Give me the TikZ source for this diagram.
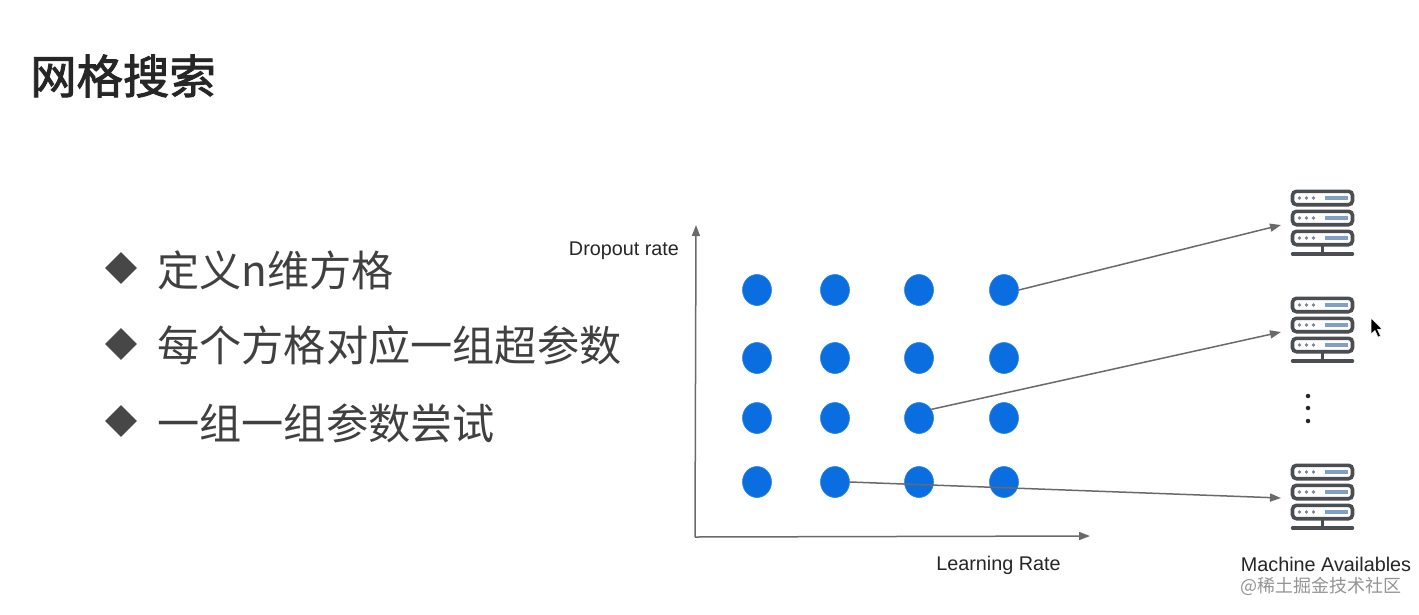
\documentclass[tikz,border=0pt]{standalone}
\usepackage{fontspec}
\setmainfont{Liberation Sans}
\newfontfamily\cjk{Noto Sans CJK SC}
\newfontfamily\cjkt[FakeBold=2]{Noto Sans CJK SC}
\usetikzlibrary{arrows.meta,shapes.geometric}
\definecolor{dotblue}{HTML}{0A6EE0}
\definecolor{dotedge}{HTML}{2A86DC}
\definecolor{lineg}{HTML}{6A6A6A}
\definecolor{srv}{HTML}{4A4D52}
\definecolor{srvbar}{HTML}{7F9FC4}
\definecolor{srvdot}{HTML}{7C8794}
\definecolor{txt}{HTML}{404040}
\tikzset{
  x=1pt,y=-1pt,
  griddot/.style={ellipse,fill=dotblue,draw=dotedge,line width=.6pt,minimum width=29pt,minimum height=31pt,inner sep=0pt},
  conn/.style={draw=lineg,line width=1.5pt,-{Triangle[length=11pt,width=8pt]}},
  bulletitem/.style={anchor=west,inner sep=0pt,font=\cjk\fontsize{42.2}{42.2}\selectfont,text=txt},
  bulletmark/.style={diamond,fill=black!72,minimum width=32pt,minimum height=32pt,inner sep=0pt},
  axislabel/.style={inner sep=0pt,font=\fontsize{19.8}{20}\selectfont,text=black!85},
  ellipsisdot/.style={circle,fill=black!85,minimum size=4.5pt,inner sep=0pt},
  srvunit/.pic={
    \foreach \yy in {-20,0,20}{
      \draw[srv,line width=3.6pt,rounded corners=4pt,fill=white] (-30,\yy-6.7) rectangle (30,\yy+6.7);
      \fill[srvdot] (-23,\yy) circle (1.8) (-16,\yy) circle (1.8) (-9,\yy) circle (1.8);
      \draw[srvbar,line width=3.5pt] (2,\yy) -- (25,\yy);
    }
    \draw[srv,line width=3pt] (0,27) -- (0,36);
    \draw[srv,line width=3.4pt,line cap=round] (-30,36) -- (30,36);
  }
}
\begin{document}
\begin{tikzpicture}
\useasboundingbox (0,0) rectangle (1419,614);
\fill[white] (0,0) rectangle (1419,614);
% title
\node[anchor=west,inner sep=0pt,font=\cjkt\fontsize{46.4}{46.4}\selectfont,text=black!85] (title) at (30,76) {网格搜索};
% bullets
\node[bulletmark] (b1) at (121,268) {};
\node[bulletmark] (b2) at (121,344) {};
\node[bulletmark] (b3) at (121,421) {};
\node[bulletitem] (t1) at (157,270) {定义n维方格};
\node[bulletitem] (t2) at (157,345) {每个方格对应一组超参数};
\node[bulletitem] (t3) at (157,423) {一组一组参数尝试};
% axes
\coordinate (o) at (695,537);
\coordinate (yend) at (696,225);
\coordinate (xend) at (1090,536);
\draw[conn] (o) -- (yend);
\draw[conn] (o) -- (xend);
\node[axislabel] (ylab) at (624,250.5) {Dropout rate};
\node[axislabel] (xlab) at (998.5,565) {Learning Rate};
% servers
\pic at (1322.5,218) {srvunit};
\pic at (1322.5,325) {srvunit};
\pic at (1322.5,492) {srvunit};
\coordinate (s1) at (1281,225);
\coordinate (s2) at (1281,332);
\coordinate (s3) at (1281,498);
% dots
\foreach \r/\yy in {a/290,b/358,c/418,d/482}{
  \foreach \c/\xx in {1/757,2/835,3/919,4/1004}{
    \node[griddot] (\r\c) at (\xx,\yy) {};
  }
}
% connectors
\draw[conn] (a4.east) -- (s1);
\draw[conn] (c3.35) -- (s2);
\draw[conn] (d2.east) -- (s3);
% vertical ellipsis
\node[ellipsisdot] (e1) at (1308,396) {};
\node[ellipsisdot] (e2) at (1308,408) {};
\node[ellipsisdot] (e3) at (1308,421) {};
% labels
\node[axislabel] (mlab) at (1326,564) {Machine Availables};
\node[anchor=west,inner sep=0pt,font=\cjk\fontsize{18}{18}\selectfont,text=black!42] (wm) at (1240,586) {@稀土掘金技术社区};
% cursor
\fill[black,draw=white,line width=.5pt] (1371,318) -- (1371,334) -- (1375,330.5) -- (1378,337) -- (1380.5,336) -- (1377.5,329.5) -- (1382,329) -- cycle;
\end{tikzpicture}
\end{document}
